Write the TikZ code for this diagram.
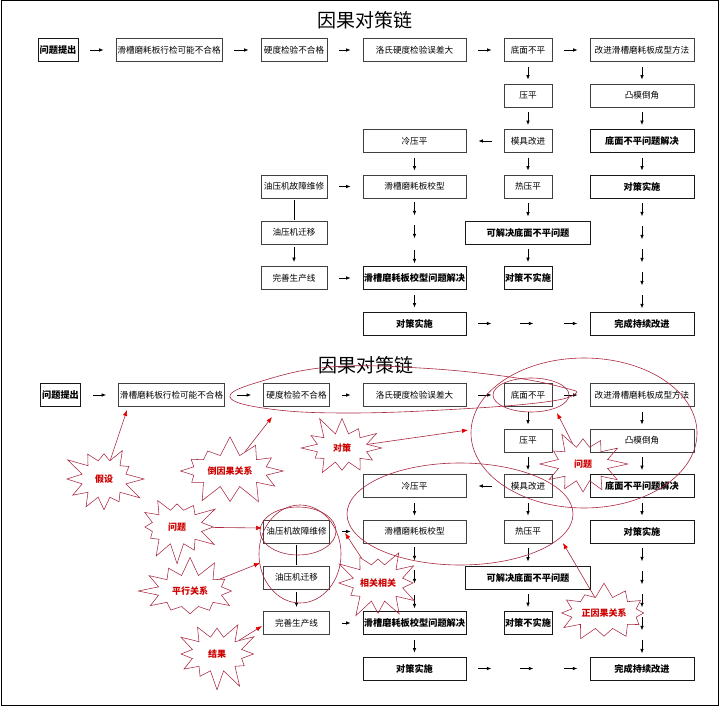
\documentclass[tikz,border=0pt]{standalone}
\usepackage{fontspec}
\setmainfont{Noto Sans CJK SC}
\usetikzlibrary{shapes.symbols,arrows.meta,calc}
\definecolor{sred}{RGB}{168,40,64}
\definecolor{tred}{RGB}{205,0,0}
\tikzset{
 box/.style={draw=black!75,line width=0.8pt,minimum height=23pt,inner sep=0pt,font=\fontsize{8.6}{10}\selectfont},
 bbox/.style={box,draw=black!90,font=\fontsize{9.2}{10}\selectfont\bfseries},
 arr/.style={-{Latex[length=4.5pt,width=3.6pt]},line width=0.8pt},
 ha/.style={arr,shorten <=12pt,shorten >=12pt},
 va/.style={arr,shorten <=5pt,shorten >=4pt},
 burst/.style={starburst,draw=sred,line width=0.55pt,starburst points=12,starburst point height=20pt,text=tred,font=\fontsize{9}{10}\selectfont\bfseries,inner xsep=4pt,inner ysep=7pt},
 rarr/.style={draw=sred,line width=0.6pt,-{Latex[length=6pt,width=4.5pt,color=red!90!black]}},
 ring/.style={draw=sred,line width=0.6pt}
}
\newcommand\mychain[2]{%
\node[bbox,minimum width=40pt] (#1a1) at ({58+#2},50) {问题提出};
\node[box,minimum width=106pt] (#1a2) at ({169+#2},50) {滑槽磨耗板行检可能不合格};
\node[box,minimum width=66pt] (#1a3) at ({294+#2},50) {硬度检验不合格};
\node[box,minimum width=103pt] (#1a4) at (414.5,50) {洛氏硬度检验误差大};
\node[box,minimum width=48pt] (#1a5) at (528,50) {底面不平};
\node[box,minimum width=104pt] (#1a6) at (642,50) {改进滑槽磨耗板成型方法};
\node[box,minimum width=48pt] (#1b5) at (528,95.5) {压平};
\node[box,minimum width=104pt] (#1b6) at (642,95.5) {凸模倒角};
\node[box,minimum width=103pt] (#1c4) at (414.5,141) {冷压平};
\node[box,minimum width=48pt] (#1c5) at (528,141) {模具改进};
\node[bbox,minimum width=104pt] (#1c6) at (642,141) {底面不平问题解决};
\node[box,minimum width=66pt] (#1d3) at ({294+#2},186.5) {油压机故障维修};
\node[box,minimum width=103pt] (#1d4) at (414.5,186.5) {滑槽磨耗板校型};
\node[box,minimum width=48pt] (#1d5) at (528,186.5) {热压平};
\node[bbox,minimum width=104pt] (#1d6) at (642,186.5) {对策实施};
\node[box,minimum width=66pt] (#1e3) at ({294+#2},232.5) {油压机迁移};
\node[bbox,minimum width=125pt] (#1e5) at (528,232.5) {可解决底面不平问题};
\node[box,minimum width=66pt] (#1f3) at ({294+#2},278) {完善生产线};
\node[bbox,minimum width=103pt] (#1f4) at (414.5,278) {滑槽磨耗板校型问题解决};
\node[bbox,minimum width=48pt] (#1f5) at (528,278) {对策不实施};
\node[bbox,minimum width=103pt] (#1g4) at (414.5,323.5) {对策实施};
\node[bbox,minimum width=104pt] (#1g6) at (642,323.5) {完成持续改进};
\draw[ha] (#1a1)--(#1a2);
\draw[ha] (#1a2)--(#1a3);
\draw[ha] (#1a3)--(#1a4);
\draw[ha] (#1a4)--(#1a5);
\draw[ha] (#1a5)--(#1a6);
\draw[ha] (#1c5)--(#1c4);
\draw[ha] (#1d3)--(#1d4);
\draw[ha] (#1f3)--(#1f4);
\draw[va] (#1a5)--(#1b5);
\draw[va] (#1b5)--(#1c5);
\draw[va] (#1c5)--(#1d5);
\draw[va] (#1a6)--(#1b6);
\draw[va] (#1b6)--(#1c6);
\draw[va] (#1c6)--(#1d6);
\draw[va] (#1c4)--(#1d4);
\draw[va] (#1d5)--(#1e5);
\draw[va] (#1e5)--(#1f5);
\draw[va] (#1f4)--(#1g4);
\draw[va,shorten <=3pt] (#1e3)--(#1f3);
\draw[line width=0.8pt,shorten <=2pt,shorten >=1pt] (#1d3)--(#1e3);
\foreach \yy in {4,27,52} \draw[arr] ($(#1d4.south)+(0,\yy)$) -- ++(0,13);
\foreach \yy in {5,28,51,74,97} \draw[arr] ($(#1d6.south)+(0,\yy)$) -- ++(0,13);
\foreach \xx in {12,54,98} \draw[arr] ($(#1g4.east)+(\xx,0)$) -- ++(13,0);
}
\begin{document}
\begin{tikzpicture}[x=1pt,y=-1pt]
\useasboundingbox (0,0) rectangle (720,708);
\draw[line width=1pt] (1,1) rectangle (718,705);
\node (title1) at (365,20) {\fontsize{19}{20}\selectfont 因果对策链};
\mychain{T}{0}
\begin{scope}[shift={(0,345)}]
\node (title2) at (366,20) {\fontsize{19}{20}\selectfont 因果对策链};
\mychain{B}{2.5}
\end{scope}
% red annotation rings
\draw[ring] plot[smooth cycle,tension=0.7] coordinates {(230,397) (262,381) (330,367) (420,368) (510,377) (565,388) (575,394) (545,402) (460,409) (350,413) (270,409)};
\draw[ring] (531,395) ellipse [x radius=38pt,y radius=17pt];
\draw[ring] (584,433) ellipse [x radius=113pt,y radius=75pt];
\draw[ring] (460,514) ellipse [x radius=113pt,y radius=51pt];
\draw[ring] (298,531) ellipse [x radius=38pt,y radius=24pt];
\draw[ring] (300,554) ellipse [x radius=41pt,y radius=49pt];
% starbursts
\node[burst,inner xsep=7pt,inner ysep=9pt,random starburst=3] (s1) at (104,479) {假设};
\node[burst,random starburst=7] (s2) at (230,471) {倒因果关系};
\node[burst,inner xsep=9pt,inner ysep=6pt,random starburst=11] (s3) at (342,448) {对策};
\node[burst,inner xsep=9pt,inner ysep=8pt,random starburst=13] (s4) at (177,527) {问题};
\node[burst,inner xsep=5pt,random starburst=17] (s5) at (190,591) {平行关系};
\node[burst,inner xsep=9pt,inner ysep=8pt,random starburst=19] (s6) at (217,654) {结果};
\node[burst,inner xsep=0pt,inner ysep=9pt,random starburst=23] (s7) at (378,583) {相关相关};
\node[burst,inner xsep=9pt,inner ysep=8pt,random starburst=29] (s8) at (583,464) {问题};
\node[burst,inner xsep=1pt,random starburst=31] (s9) at (604,613) {正因果关系};
% targets
\coordinate (t1) at (127,410);
\coordinate (t2) at (272,417);
\coordinate (t3) at (468,430);
\coordinate (t4) at (262,528);
\coordinate (t5) at (260,563);
\coordinate (t6) at (262,626);
\coordinate (t7) at (345,533);
\coordinate (t8) at (557,413);
\coordinate (t9) at (563,543);
\draw[rarr] (s1)--(t1);
\draw[rarr] (s2)--(t2);
\draw[rarr] (s3)--(t3);
\draw[rarr] (s4)--(t4);
\draw[rarr] (s5)--(t5);
\draw[rarr] (s6)--(t6);
\draw[rarr] (s7)--(t7);
\draw[rarr] (s8)--(t8);
\draw[rarr] (s9)--(t9);
\end{tikzpicture}
\end{document}
